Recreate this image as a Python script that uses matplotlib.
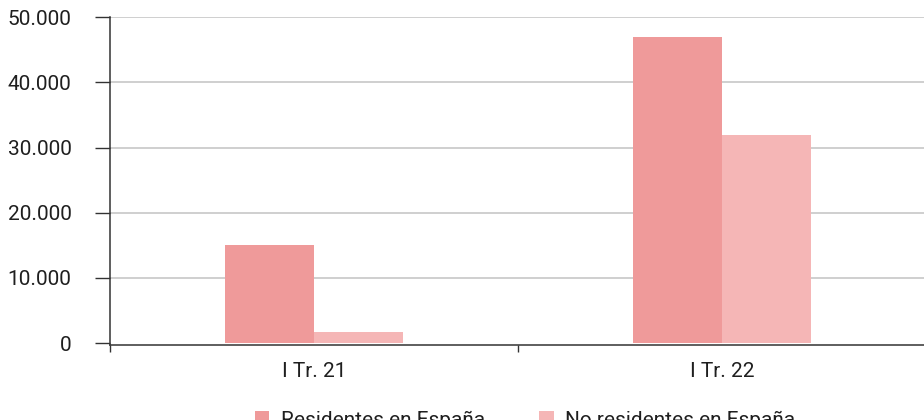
import matplotlib
matplotlib.use("Agg")
import matplotlib.pyplot as plt
from matplotlib.patches import Patch
import numpy as np

categories = ["I Tr. 21", "I Tr. 22"]
residentes = [15050, 47000]
no_residentes = [1700, 32000]
series_names = ["Residentes en España", "No residentes en España"]
yticks = [0, 10000, 20000, 30000, 40000, 50000]
ytick_labels = ["0", "10.000", "20.000", "30.000", "40.000", "50.000"]

c_res = "#EF9A9A"
c_nores = "#F5B6B6"
text_color = "#1f1f1f"

plt.rcParams['font.family'] = ['Roboto', 'DejaVu Sans']

W, H = 924, 420
fig = plt.figure(figsize=(W / 100, H / 100), dpi=100)
left_px, right_px = 110, 926
top_px, bottom_px = 17.3, 345.3
ax = fig.add_axes([left_px / W, 1 - bottom_px / H, (right_px - left_px) / W, (bottom_px - top_px) / H])

x = np.arange(len(categories))
bw = 0.218
ax.bar(x - bw / 2, residentes, width=bw, color=c_res, zorder=3, linewidth=0)
ax.bar(x + bw / 2, no_residentes, width=bw, color=c_nores, zorder=3, linewidth=0)

ax.set_xlim(-0.5, len(categories) - 0.5)
ax.set_ylim(-350, 50000)

ax.set_yticks(yticks)
ax.set_yticklabels(ytick_labels)
ax.yaxis.grid(True, color="#cccccc", linewidth=1.3, zorder=0)
ax.set_axisbelow(True)
ax.yaxis.get_gridlines()[0].set_visible(False)

ax.set_xticks(np.arange(-0.5, len(categories), 1.0))
ax.set_xticklabels([""] * len(np.arange(-0.5, len(categories), 1.0)))
ax.set_xticks(x, minor=True)
ax.set_xticklabels(categories, minor=True)
ax.tick_params(axis='x', which='minor', length=0, pad=12, labelsize=15, labelcolor=text_color)
ax.tick_params(axis='x', which='major', length=5, width=1, color="#333333")
ax.tick_params(axis='y', length=10.8, width=1, color="#333333", pad=17, labelsize=15, labelcolor=text_color)

for s in ["top", "right"]:
    ax.spines[s].set_visible(False)
for s in ["left", "bottom"]:
    ax.spines[s].set_color("#333333")
    ax.spines[s].set_linewidth(1.1)

handles = [Patch(facecolor=c_res, edgecolor="none"), Patch(facecolor=c_nores, edgecolor="none")]
fig.legend(handles, series_names, loc="center", bbox_to_anchor=(525 / W, 0.0),
           ncol=2, frameon=False, fontsize=15, handlelength=0.7, handleheight=0.7,
           handletextpad=0.55, columnspacing=2.6, labelcolor=text_color)

fig.savefig("out.png", dpi=100)
